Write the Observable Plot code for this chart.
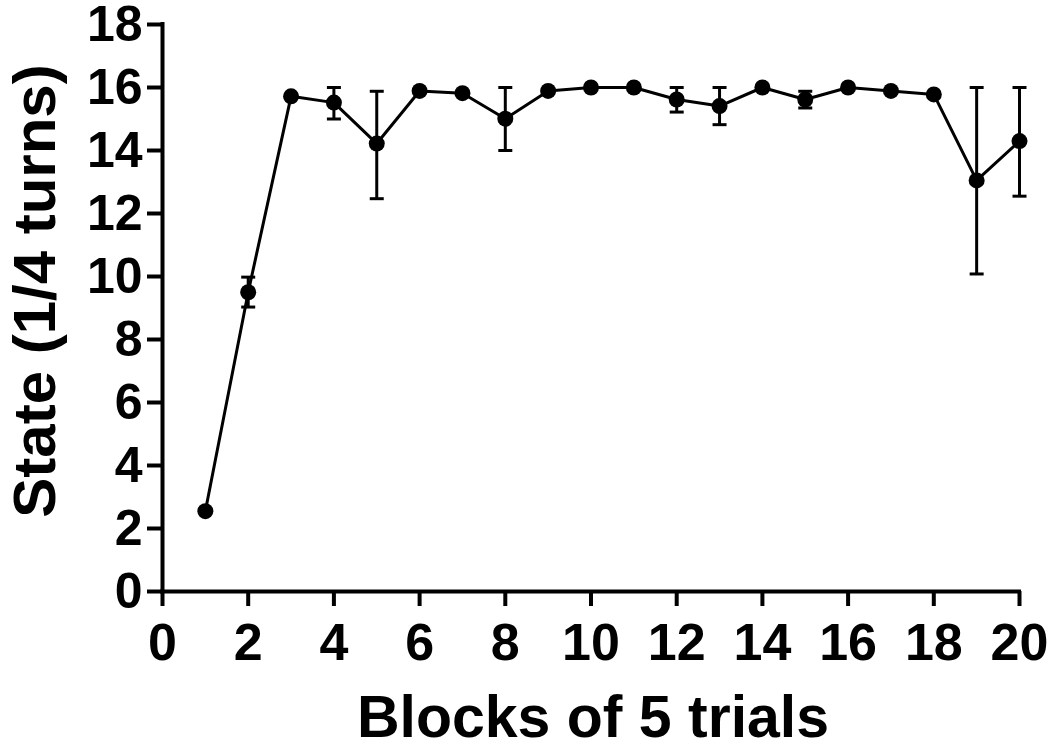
<!DOCTYPE html>
<html><head><meta charset="utf-8">
<script src="https://cdn.jsdelivr.net/npm/d3@7"></script>
<script src="https://cdn.jsdelivr.net/npm/@observablehq/plot@0.6"></script>
<style>
html,body{margin:0;padding:0;background:#fff;}
#chart svg{overflow:visible;}
#chart svg text{font-family:"Liberation Sans",Arial,Helvetica,sans-serif !important;font-weight:bold;}
</style></head><body><div id="chart"></div>
<script>
const blocks = [1,2,3,4,5,6,7,8,9,10,11,12,13,14,15,16,17,18,19,20];
const means  = [2.55,9.5,15.72,15.52,14.22,15.89,15.82,15.01,15.89,16.0,16.0,15.62,15.41,16.0,15.62,16.0,15.89,15.78,13.05,14.3];
const lower  = [null,9.03,null,15.0,12.47,null,null,14.0,null,null,null,15.22,14.82,null,15.35,null,null,null,10.08,12.55];
const upper  = [null,9.98,null,16.0,15.88,null,null,16.0,null,null,null,16.0,16.0,null,15.88,null,null,null,16.0,16.0];
const xTicks = [0,2,4,6,8,10,12,14,16,18,20];
const yTicks = [0,2,4,6,8,10,12,14,16,18];
const xDomain = [0,20];
const yDomain = [0,18];
const xTitle = "Blocks of 5 trials";
const yTitle = "State (1/4 turns)";

const data = blocks.map((b,i)=>({block:b, mean:means[i], lower:lower[i], upper:upper[i]}));
const bars = data.filter(d=>d.lower!=null);
const capSymbol = {draw(ctx){ctx.moveTo(-7,0);ctx.lineTo(7,0);}};

const chart = Plot.plot({
  width:1050, height:749,
  marginLeft:162, marginRight:31, marginTop:24, marginBottom:158,
  style:{fontFamily:"'Liberation Sans',Arial,sans-serif", fontWeight:"bold", background:"#fff", color:"#000"},
  x:{domain:xDomain},
  y:{domain:yDomain},
  marks:[
    Plot.ruleX(bars,{x:"block", y1:"lower", y2:"upper", stroke:"#000", strokeWidth:3}),
    Plot.dot(bars,{x:"block", y:"lower", symbol:capSymbol, fill:"none", stroke:"#000", strokeWidth:3}),
    Plot.dot(bars,{x:"block", y:"upper", symbol:capSymbol, fill:"none", stroke:"#000", strokeWidth:3}),
    Plot.line(data,{x:"block", y:"mean", stroke:"#000", strokeWidth:3}),
    Plot.dot(data,{x:"block", y:"mean", r:8, fill:"#000", stroke:"none"}),
    Plot.ruleX([xDomain[0]],{y1:()=>yDomain[0], y2:()=>yDomain[1], stroke:"#000", strokeWidth:4, strokeLinecap:"square"}),
    Plot.ruleY([yDomain[0]],{x1:()=>xDomain[0], x2:()=>xDomain[1], stroke:"#000", strokeWidth:4, strokeLinecap:"square"}),
    Plot.axisX({ticks:xTicks, tickSize:15, tickPadding:17, strokeWidth:4, fontSize:52, label:null, tickFormat:d=>String(d)}),
    Plot.axisY({ticks:yTicks, tickSize:15, tickPadding:5, strokeWidth:4, fontSize:50, label:null, tickFormat:d=>String(d)}),
    Plot.text([yTitle],{text:d=>d, frameAnchor:"left", rotate:-90, dx:-108, dy:-17, lineAnchor:"bottom", textAnchor:"middle", fontSize:60, fill:"#000"}),
    Plot.text([xTitle],{text:d=>d, frameAnchor:"bottom", dx:2, dy:145, lineAnchor:"bottom", textAnchor:"middle", fontSize:59, fill:"#000"})
  ]
});
document.getElementById("chart").appendChild(chart);
</script></body></html>
